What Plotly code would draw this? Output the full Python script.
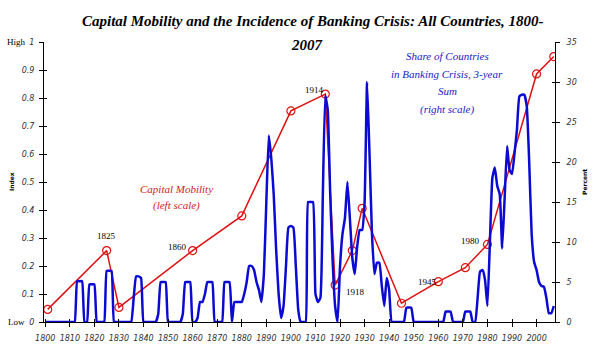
import plotly.graph_objects as go

# ---------------- data ----------------
years = list(range(1800, 2008))
crisis_share = (
    [0]*13 +                         # 1800-1812
    [5.1, 5.1, 5.1] +                # 1813-1815
    [0, 0] +                         # 1816-1817
    [4.7, 4.7, 4.7] +                # 1818-1820
    [0, 0, 0, 0] +                   # 1821-1824
    [6.4, 6.4, 6.4] +                # 1825-1827
    [0]*8 +                          # 1828-1835
    [3, 5.7, 5.7, 5.5] +             # 1836-1839
    [0]*6 +                          # 1840-1845
    [1, 5, 5, 5] +                   # 1846-1849
    [0]*6 +                          # 1850-1855
    [1, 5, 5, 5] +                   # 1856-1859
    [0, 0, 0.5] +                    # 1860-1862
    [2.5, 2.5, 3.5, 5, 5, 5] +       # 1863-1868
    [0, 0, 0, 0] +                   # 1869-1872
    [5, 5, 5] +                      # 1873-1875
    [0] +                            # 1876
    [2.5, 2.5, 2.5, 2.5] +           # 1877-1880
    [3.5, 5, 7, 7, 6.5, 5, 4, 2.5] + # 1881-1888
    [6, 15, 23.3, 20.5, 16, 9, 3.5, 0.5] +   # 1889-1896
    [2, 7, 11.8, 12, 11.8, 7, 1.5] + # 1897-1903
    [0, 0, 0] +                      # 1904-1906
    [15, 15, 15] +                   # 1907-1909
    [3.5, 2.5, 3, 16, 28.3, 26.5, 16, 7.5, 2, 0] +   # 1910-1919
    [7, 11, 13, 17.5, 13, 8, 6, 9.5, 11.5, 11.5] +   # 1920-1929
    [15, 30, 21, 11, 6, 7.4, 7.4, 4.5, 2, 5.5, 4] +  # 1930-1940
    [0]*6 +                          # 1941-1946
    [1.8, 1.8, 1.8] +                # 1947-1949
    [0]*13 +                         # 1950-1962
    [1.3, 1.3, 1.3] +                # 1963-1965
    [0]*5 +                          # 1966-1970
    [1.3, 1.3, 1.3] +                # 1971-1973
    [0, 0] +                         # 1974-1975
    [3, 6.3, 6.5, 5.3, 2, 10, 18, 19.3, 17, 16] +    # 1976-1985
    [9.2, 15.5, 22, 19, 18.5, 21, 24, 28.2, 28.4, 28.4] +  # 1986-1995
    [27, 20, 11, 7.5, 6.5, 5, 4.5, 4.4, 3, 1.1, 1.1, 2]    # 1996-2007
)

mob_years = [1801, 1825, 1830, 1860, 1880, 1900, 1914, 1918, 1925, 1929,
             1945, 1960, 1971, 1980, 2000, 2007]
mob_index = [0.045, 0.255, 0.052, 0.255, 0.379, 0.754, 0.814, 0.132, 0.255,
             0.406, 0.067, 0.144, 0.194, 0.277, 0.886, 0.948]

point_labels = ["1825", "1860", "1914", "1918", "1945", "1980"]
x_tick_years = list(range(1800, 2001, 10))
left_ticks = [round(i * 0.1, 1) for i in range(11)]
right_ticks = list(range(0, 36, 5))

title_line1 = "Capital Mobility and the Incidence of Banking Crisis: All Countries, 1800-"
title_line2 = "2007"
red_note = ["Capital Mobility", "(left scale)"]
blue_note = ["Share of Countries", "in Banking Crisis, 3-year", "Sum", "(right scale)"]

# ---------------- layout geometry ----------------
W, H = 612, 354
L, R, T, B = 44, 57, 42, 32
PW, PH = W - L - R, H - T - B


def px(x):
    return (x - L) / PW


def py(y):
    return (H - B - y) / PH


fig = go.Figure()

fig.add_trace(go.Scatter(
    x=years, y=crisis_share, yaxis="y2", mode="lines",
    line=dict(color="#0a0ad2", width=2.5, shape="spline", smoothing=0.4),
    hoverinfo="skip", showlegend=False))

fig.add_trace(go.Scatter(
    x=mob_years, y=mob_index, yaxis="y", mode="lines+markers",
    line=dict(color="#e01010", width=1.5),
    marker=dict(symbol="circle-open", size=8, color="#e01010", line=dict(width=1.2)),
    hoverinfo="skip", showlegend=False))

tickfont = dict(family="DejaVu Sans", size=8, color="#303030", style="italic")
xr = [1799.5, 2007.5]

fig.update_layout(
    width=W, height=H, margin=dict(l=L, r=R, t=T, b=B),
    paper_bgcolor="white", plot_bgcolor="white",
    xaxis=dict(range=xr, tickmode="array", tickvals=x_tick_years,
               ticktext=[str(v) for v in x_tick_years],
               showgrid=False, zeroline=False, showline=True, linecolor="black",
               linewidth=1, ticks="outside", ticklen=4, tickcolor="black",
               tickfont=tickfont, ticklabelstandoff=4),
    xaxis2=dict(range=xr, overlaying="x", tickmode="array", tickvals=x_tick_years,
                showticklabels=False, showgrid=False, zeroline=False,
                ticks="inside", ticklen=3, tickcolor="black", showline=False),
    yaxis=dict(range=[0, 1], tickmode="array", tickvals=left_ticks,
               showgrid=False, zeroline=False, showline=True, linecolor="black",
               linewidth=1, ticks="outside", ticklen=4, tickcolor="black",
               tickfont=tickfont, ticklabelstandoff=3),
    yaxis2=dict(range=[0, 35], overlaying="y", side="right", tickmode="array",
                tickvals=right_ticks, showgrid=False, zeroline=False,
                showline=True, linecolor="black", linewidth=1, ticks="outside",
                ticklen=4, tickcolor="black", tickfont=tickfont,
                ticklabelstandoff=5),
    yaxis3=dict(range=[0, 1], overlaying="y", tickmode="array", tickvals=left_ticks,
                showticklabels=False, showgrid=False, zeroline=False,
                ticks="inside", ticklen=3, tickcolor="black", showline=False),
    yaxis4=dict(range=[0, 35], overlaying="y", side="right", tickmode="array",
                tickvals=right_ticks, showticklabels=False, showgrid=False,
                zeroline=False, ticks="inside", ticklen=3, tickcolor="black",
                showline=False),
)

# invisible traces to activate the cross-tick helper axes
fig.add_trace(go.Scatter(x=[xr[0]], y=[0], xaxis="x2", yaxis="y3", mode="none",
                         showlegend=False, hoverinfo="skip"))
fig.add_trace(go.Scatter(x=[xr[0]], y=[0], xaxis="x2", yaxis="y4", mode="none",
                         showlegend=False, hoverinfo="skip"))

ann = []


def note(text, x, y, font, angle=0):
    ann.append(dict(text=text, x=px(x), y=py(y), xref="paper", yref="paper",
                    showarrow=False, font=font, xanchor="center",
                    yanchor="middle", textangle=angle))


title_font = dict(family="Liberation Serif", size=15, color="black",
                  style="italic", weight="bold")
note(title_line1, 313, 21, title_font)
note(title_line2, 307, 45, title_font)

serif_black = dict(family="Liberation Serif", size=9, color="black")
note("High", 16, 42, serif_black)
note("Low", 16, 322, serif_black)

label_pos = [(106, 236), (177, 247), (314, 90), (355, 292), (427, 282), (470, 241)]
for txt, (lx, ly) in zip(point_labels, label_pos):
    note(txt, lx, ly, serif_black)

red_font = dict(family="Liberation Serif", size=11, color="#d02020", style="italic")
for txt, (lx, ly) in zip(red_note, [(176, 189), (176, 206)]):
    note(txt, lx, ly, red_font)

blue_font = dict(family="Liberation Serif", size=11, color="#2020c8", style="italic")
for txt, (lx, ly) in zip(blue_note, [(447, 56), (447, 74), (447, 91), (447, 109)]):
    note(txt, lx, ly, blue_font)

axis_title_font = dict(family="DejaVu Sans", size=6, color="black", weight="bold")
note("Index", 11, 182, axis_title_font, -90)
note("Percent", 584, 182, axis_title_font, -90)

fig.update_layout(annotations=ann)
fig.write_html("out.html")
